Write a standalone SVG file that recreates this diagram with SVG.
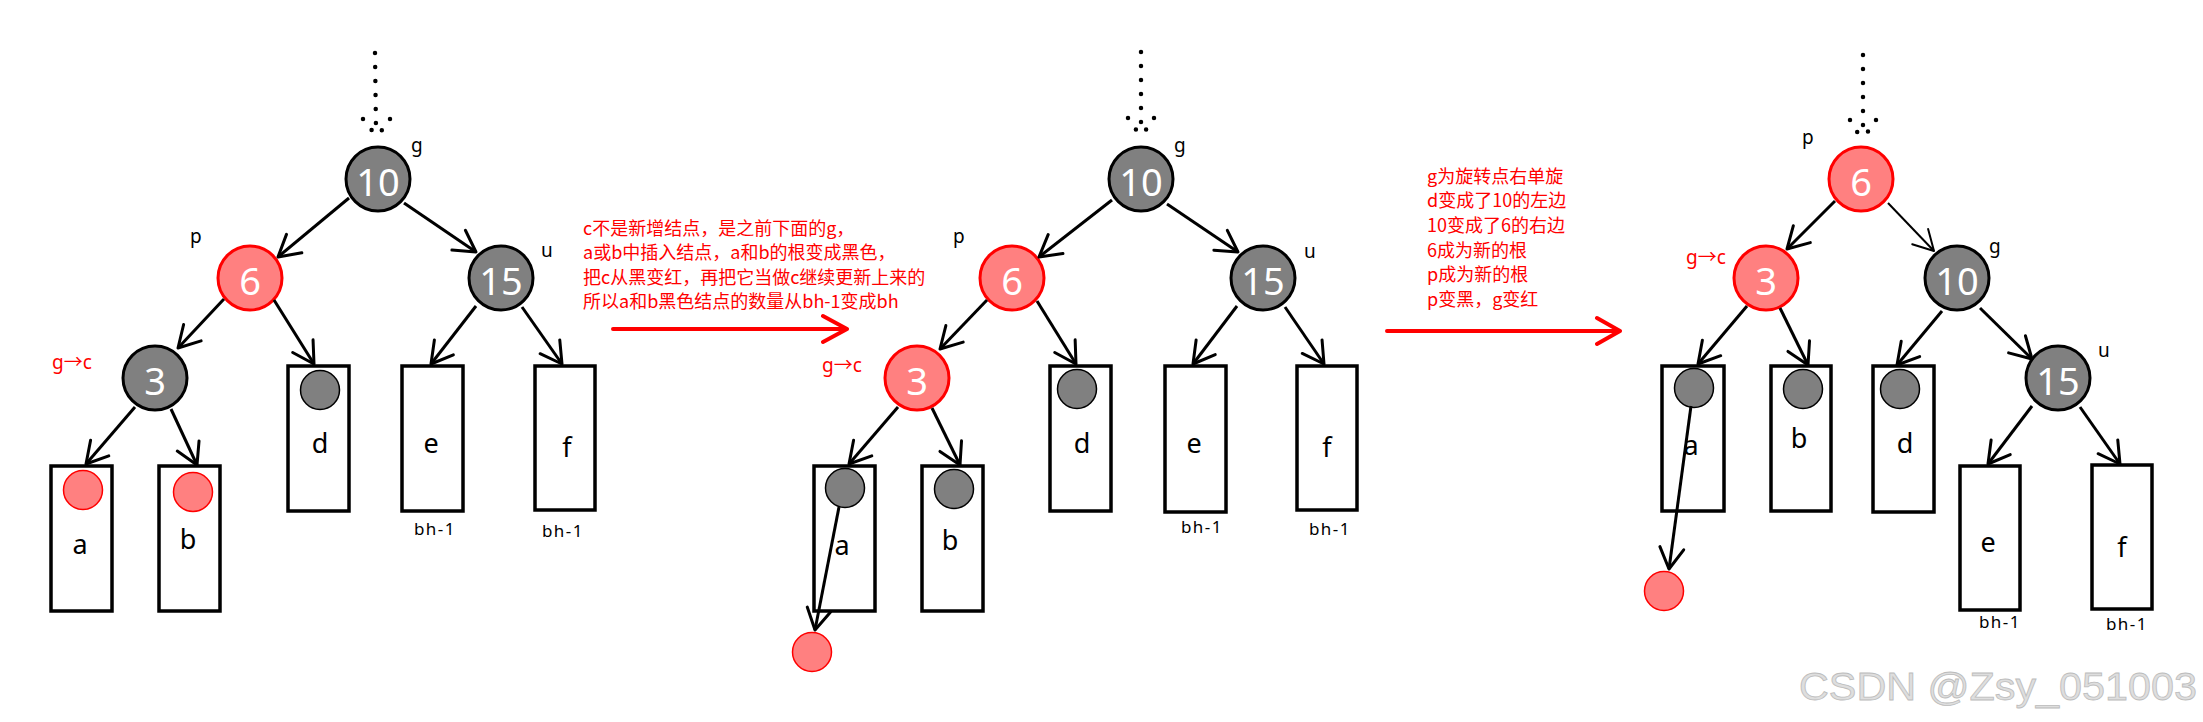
<svg xmlns="http://www.w3.org/2000/svg" width="2203" height="722" viewBox="0 0 2203 722">
<defs>
<style>
.bg{fill:#fff}
.nb{fill:#808080;stroke:#000;stroke-width:3}
.nr{fill:#ff8080;stroke:#ff0000;stroke-width:3}
.sb{fill:#808080;stroke:#000;stroke-width:1.5}
.sr{fill:#ff8080;stroke:#ff0000;stroke-width:1.5}
.box{fill:#fff;stroke:#000;stroke-width:3.5}
.num{font-family:"Noto Sans","Open Sans",sans-serif;font-size:38px;fill:#fff;text-anchor:middle}
.lt{font-family:"Noto Sans","Open Sans",sans-serif;font-size:27px;fill:#000;text-anchor:middle}
.bh{font-family:"Noto Sans","Open Sans",sans-serif;font-size:17px;fill:#000;text-anchor:middle;letter-spacing:1.5px}
.lb{font-family:"Noto Sans","Open Sans",sans-serif;font-size:19px;fill:#000}
.gc{font-family:"Noto Sans","Noto Sans CJK SC",sans-serif;font-size:19px;fill:#ff0000}
.cn{font-family:"Noto Sans CJK SC","Noto Sans",sans-serif;font-size:18px;fill:#ff0000}
.e{fill:none;stroke:#000;stroke-width:3;marker-end:url(#ah)}
.et{fill:none;stroke:#000;stroke-width:2;marker-end:url(#aht)}
.dot{fill:none;stroke:#000;stroke-width:4.5;stroke-linecap:round;stroke-dasharray:0 14}
.ra{fill:none;stroke:#ff0000;stroke-width:4;stroke-linecap:round;stroke-linejoin:round}
.wm{font-family:"Liberation Sans",Arial,sans-serif;font-size:39px;fill:#dedede;stroke:#bcbcbc;stroke-width:0.8}
</style>
<marker id="ah" markerUnits="userSpaceOnUse" markerWidth="30" markerHeight="30" viewBox="-26 -15 30 30" refX="0" refY="0" orient="auto" overflow="visible">
<path d="M-21,-12 L0,0 L-21,12" fill="none" stroke="#000" stroke-width="3" stroke-linecap="round" stroke-linejoin="round"/>
</marker>
<marker id="aht" markerUnits="userSpaceOnUse" markerWidth="30" markerHeight="30" viewBox="-26 -15 30 30" refX="0" refY="0" orient="auto" overflow="visible">
<path d="M-20,-11 L0,0 L-20,11" fill="none" stroke="#000" stroke-width="2" stroke-linecap="round" stroke-linejoin="round"/>
</marker>
</defs>
<rect class="bg" x="0" y="0" width="2203" height="722"/>

<!-- ===== Panel 1 ===== -->
<g id="p1-n10"><circle class="nb" cx="378" cy="179" r="32"/><text class="num" x="378" y="196">10</text><text class="lb" x="411" y="152">g</text></g>
<g id="p1-n6"><circle class="nr" cx="250" cy="278" r="32"/><text class="num" x="250" y="295">6</text><text class="lb" x="190" y="243">p</text></g>
<g id="p1-n15"><circle class="nb" cx="501" cy="278" r="32"/><text class="num" x="501" y="295">15</text><text class="lb" x="541" y="257">u</text></g>
<g id="p1-n3"><circle class="nb" cx="155" cy="378" r="32"/><text class="num" x="155" y="395">3</text><text class="gc" x="52" y="369">g→c</text></g>
<g id="p1-a"><rect class="box" x="51" y="466" width="61" height="145"/><circle class="sr" cx="83" cy="490" r="19.5"/><text class="lt" x="80" y="554">a</text></g>
<g id="p1-b"><rect class="box" x="159" y="466" width="61" height="145"/><circle class="sr" cx="193" cy="492" r="19.5"/><text class="lt" x="188" y="549">b</text></g>
<g id="p1-d"><rect class="box" x="288" y="366" width="61" height="145"/><circle class="sb" cx="320" cy="390" r="19.5"/><text class="lt" x="320" y="453">d</text></g>
<g id="p1-e"><rect class="box" x="402" y="366" width="61" height="145"/><text class="lt" x="431" y="453">e</text><text class="bh" x="435" y="535">bh-1</text></g>
<g id="p1-f"><rect class="box" x="535" y="366" width="60" height="144"/><text class="lt" x="567" y="457">f</text><text class="bh" x="563" y="537">bh-1</text></g>

<g id="note1">
<text class="cn" x="583" y="235">c不是新增结点，是之前下面的g，</text>
<text class="cn" x="583" y="259">a或b中插入结点，a和b的根变成黑色，</text>
<text class="cn" x="583" y="284">把c从黑变红，再把它当做c继续更新上来的</text>
<text class="cn" x="583" y="308">所以a和b黑色结点的数量从bh-1变成bh</text>
</g>

<!-- ===== Panel 2 ===== -->
<g id="p2-n10"><circle class="nb" cx="1141" cy="179" r="32"/><text class="num" x="1141" y="196">10</text><text class="lb" x="1174" y="152">g</text></g>
<g id="p2-n6"><circle class="nr" cx="1012" cy="278" r="32"/><text class="num" x="1012" y="295">6</text><text class="lb" x="953" y="243">p</text></g>
<g id="p2-n15"><circle class="nb" cx="1263" cy="278" r="32"/><text class="num" x="1263" y="295">15</text><text class="lb" x="1304" y="258">u</text></g>
<g id="p2-n3"><circle class="nr" cx="917" cy="378" r="32"/><text class="num" x="917" y="395">3</text><text class="gc" x="822" y="372">g→c</text></g>
<g id="p2-a"><rect class="box" x="814" y="466" width="61" height="145"/><circle class="sb" cx="845" cy="488" r="19.5"/><text class="lt" x="842" y="555">a</text></g>
<g id="p2-new"><circle class="sr" cx="812" cy="652" r="19.5"/></g>
<g id="p2-b"><rect class="box" x="922" y="466" width="61" height="145"/><circle class="sb" cx="954" cy="489" r="19.5"/><text class="lt" x="950" y="550">b</text></g>
<g id="p2-d"><rect class="box" x="1050" y="366" width="61" height="145"/><circle class="sb" cx="1077" cy="389" r="19.5"/><text class="lt" x="1082" y="453">d</text></g>
<g id="p2-e"><rect class="box" x="1165" y="366" width="61" height="146"/><text class="lt" x="1194" y="453">e</text><text class="bh" x="1202" y="533">bh-1</text></g>
<g id="p2-f"><rect class="box" x="1297" y="366" width="60" height="144"/><text class="lt" x="1327" y="457">f</text><text class="bh" x="1330" y="535">bh-1</text></g>

<g id="note2">
<text class="cn" x="1427" y="183">g为旋转点右单旋</text>
<text class="cn" x="1427" y="207">d变成了10的左边</text>
<text class="cn" x="1427" y="232">10变成了6的右边</text>
<text class="cn" x="1427" y="257">6成为新的根</text>
<text class="cn" x="1427" y="281">p成为新的根</text>
<text class="cn" x="1427" y="306">p变黑，g变红</text>
</g>

<!-- ===== Panel 3 ===== -->
<g id="p3-n6"><circle class="nr" cx="1861" cy="179" r="32"/><text class="num" x="1861" y="196">6</text><text class="lb" x="1802" y="144">p</text></g>
<g id="p3-n3"><circle class="nr" cx="1766" cy="278" r="32"/><text class="num" x="1766" y="295">3</text><text class="gc" x="1686" y="264">g→c</text></g>
<g id="p3-n10"><circle class="nb" cx="1957" cy="278" r="32"/><text class="num" x="1957" y="295">10</text><text class="lb" x="1989" y="253">g</text></g>
<g id="p3-n15"><circle class="nb" cx="2058" cy="378" r="32"/><text class="num" x="2058" y="395">15</text><text class="lb" x="2098" y="357">u</text></g>
<g id="p3-a"><rect class="box" x="1662" y="366" width="62" height="145"/><circle class="sb" cx="1694" cy="388" r="19.5"/><text class="lt" x="1691" y="455">a</text></g>
<g id="p3-new"><circle class="sr" cx="1664" cy="591" r="19.5"/></g>
<g id="p3-b"><rect class="box" x="1771" y="366" width="60" height="145"/><circle class="sb" cx="1803" cy="389" r="19.5"/><text class="lt" x="1799" y="448">b</text></g>
<g id="p3-d"><rect class="box" x="1873" y="366" width="61" height="146"/><circle class="sb" cx="1900" cy="389" r="19.5"/><text class="lt" x="1905" y="453">d</text></g>
<g id="p3-e"><rect class="box" x="1960" y="466" width="60" height="144"/><text class="lt" x="1988" y="552">e</text><text class="bh" x="2000" y="628">bh-1</text></g>
<g id="p3-f"><rect class="box" x="2092" y="465" width="60" height="144"/><text class="lt" x="2122" y="557">f</text><text class="bh" x="2127" y="630">bh-1</text></g>

<!-- connectors (drawn on top) -->
<g id="connectors">
<!-- panel 1 -->
<path class="dot" d="M375,53 L376,130"/>
<path class="dot" d="M363,119 L377,137"/>
<path class="dot" d="M390,119 L377,137"/>
<line class="e" x1="349" y1="198" x2="278" y2="257"/>
<line class="e" x1="404" y1="203" x2="476" y2="252"/>
<line class="e" x1="224" y1="299" x2="178" y2="348"/>
<line class="e" x1="274" y1="300" x2="314" y2="364"/>
<line class="e" x1="476" y1="306" x2="431" y2="364"/>
<line class="e" x1="522" y1="307" x2="562" y2="364"/>
<line class="e" x1="135" y1="407" x2="86" y2="464"/>
<line class="e" x1="171" y1="409" x2="197" y2="465"/>
<!-- panel 2 -->
<path class="dot" d="M1141,52 L1141,130"/>
<path class="dot" d="M1128,118 L1141,137"/>
<path class="dot" d="M1154,118 L1141,137"/>
<line class="e" x1="1112" y1="200" x2="1039" y2="257"/>
<line class="e" x1="1167" y1="204" x2="1238" y2="252"/>
<line class="e" x1="987" y1="300" x2="940" y2="349"/>
<line class="e" x1="1037" y1="301" x2="1076" y2="364"/>
<line class="e" x1="1237" y1="306" x2="1193" y2="364"/>
<line class="e" x1="1285" y1="307" x2="1324" y2="364"/>
<line class="e" x1="898" y1="407" x2="849" y2="464"/>
<line class="e" x1="932" y1="408" x2="960" y2="465"/>
<line class="e" x1="839" y1="507" x2="815" y2="630"/>
<!-- panel 3 -->
<path class="dot" d="M1863,55 L1863,132"/>
<path class="dot" d="M1850,120 L1862,140"/>
<path class="dot" d="M1876,120 L1862,140"/>
<line class="e" x1="1835" y1="201" x2="1787" y2="249"/>
<line class="et" x1="1888" y1="203" x2="1934" y2="251"/>
<line class="e" x1="1747" y1="306" x2="1698" y2="364"/>
<line class="e" x1="1780" y1="308" x2="1808" y2="365"/>
<line class="e" x1="1942" y1="311" x2="1897" y2="365"/>
<line class="e" x1="1980" y1="308" x2="2032" y2="359"/>
<line class="e" x1="2032" y1="406" x2="1988" y2="464"/>
<line class="e" x1="2080" y1="407" x2="2120" y2="464"/>
<line class="e" x1="1691" y1="406" x2="1669" y2="569"/>
<!-- red transition arrows -->
<path class="ra" d="M613,329 L847,329 M823,316 L847,329 L823,342"/>
<path class="ra" d="M1387,331 L1620,331 M1597,318 L1620,331 L1597,344"/>
</g>

<text class="wm" x="1799" y="700" textLength="398" lengthAdjust="spacingAndGlyphs">CSDN @Zsy_051003</text>
</svg>
